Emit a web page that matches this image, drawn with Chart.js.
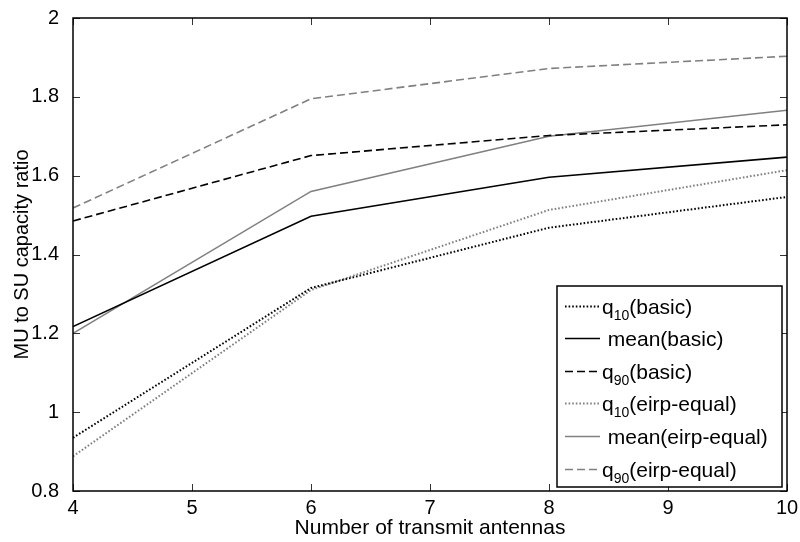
<!DOCTYPE html>
<html>
<head>
<meta charset="utf-8">
<script src="https://cdn.jsdelivr.net/npm/chart.js@4/dist/chart.umd.min.js"></script>
<style>
  html, body { margin: 0; padding: 0; background: #fff; }
  #wrap { width: 800px; height: 542px; position: relative; }
</style>
</head>
<body>
<div id="wrap"><canvas id="c" width="800" height="542"></canvas></div>
<script>
// ---- data ----
const antennas = [4, 6, 8, 10];
const q10Basic  = [0.935, 1.315, 1.468, 1.546];
const meanBasic = [1.217, 1.497, 1.596, 1.647];
const q90Basic  = [1.485, 1.651, 1.702, 1.729];
const q10Eirp   = [0.888, 1.310, 1.513, 1.614];
const meanEirp  = [1.200, 1.560, 1.700, 1.766];
const q90Eirp   = [1.518, 1.795, 1.872, 1.903];
const xTicks = [4, 5, 6, 7, 8, 9, 10];
const yTicks = [0.8, 1, 1.2, 1.4, 1.6, 1.8, 2];
const legendItems = [
  { pre: 'q', sub: '10', post: '(basic)' },
  { pre: ' mean(basic)', sub: '', post: '' },
  { pre: 'q', sub: '90', post: '(basic)' },
  { pre: 'q', sub: '10', post: '(eirp-equal)' },
  { pre: ' mean(eirp-equal)', sub: '', post: '' },
  { pre: 'q', sub: '90', post: '(eirp-equal)' }
];

const BLACK = '#000000';
const GREY = '#808080';
const DOT = [1.6, 2];
const DASH = [8, 4];
const FONT = '"Liberation Sans", Arial, Helvetica, sans-serif';

function pts(arr) { return antennas.map((x, i) => ({ x: x, y: arr[i] })); }

const series = [
  { data: q10Basic,  color: BLACK, dash: DOT,  width: 2 },
  { data: meanBasic, color: BLACK, dash: [],   width: 1.6 },
  { data: q90Basic,  color: BLACK, dash: DASH, width: 1.6 },
  { data: q10Eirp,   color: GREY,  dash: DOT,  width: 2 },
  { data: meanEirp,  color: GREY,  dash: [],   width: 1.6 },
  { data: q90Eirp,   color: GREY,  dash: DASH, width: 1.6 }
];

const boxPlugin = {
  id: 'boxPlugin',
  afterDatasetsDraw(chart) {
    const { ctx, chartArea: a, scales } = chart;
    ctx.save();
    ctx.strokeStyle = '#333';
    ctx.lineWidth = 1;
    const tl = 7;
    xTicks.forEach(v => {
      const px = Math.round(scales.x.getPixelForValue(v)) + 0.5;
      ctx.beginPath();
      ctx.moveTo(px, a.bottom); ctx.lineTo(px, a.bottom - tl);
      ctx.moveTo(px, a.top); ctx.lineTo(px, a.top + tl);
      ctx.stroke();
    });
    yTicks.forEach(v => {
      const py = Math.round(scales.y.getPixelForValue(v)) + 0.5;
      ctx.beginPath();
      ctx.moveTo(a.left, py); ctx.lineTo(a.left + tl, py);
      ctx.moveTo(a.right, py); ctx.lineTo(a.right - tl, py);
      ctx.stroke();
    });
    ctx.strokeStyle = '#000';
    ctx.lineWidth = 1.5;
    ctx.strokeRect(a.left, a.top, a.right - a.left, a.bottom - a.top);
    ctx.restore();
  },
  afterDraw(chart) {
    const { ctx, chartArea: a } = chart;
    const w = 225, h = 201;
    const x0 = a.right - 5 - w, y0 = a.bottom - 4 - h;
    ctx.save();
    ctx.fillStyle = '#fff';
    ctx.fillRect(x0, y0, w, h);
    ctx.strokeStyle = '#000';
    ctx.lineWidth = 1.5;
    ctx.strokeRect(x0, y0, w, h);
    const rowStart = 19.5, rowStep = 32.6;
    legendItems.forEach((it, i) => {
      const s = series[i];
      const cy = Math.round(y0 + rowStart + i * rowStep) + 0.5;
      ctx.beginPath();
      ctx.setLineDash(s.dash);
      ctx.strokeStyle = s.color;
      ctx.lineWidth = s.width;
      ctx.moveTo(x0 + 8, cy); ctx.lineTo(x0 + 43, cy);
      ctx.stroke();
      ctx.setLineDash([]);
      ctx.fillStyle = '#000';
      ctx.textBaseline = 'alphabetic';
      ctx.textAlign = 'left';
      let tx = x0 + 45;
      const base = cy + 7;
      ctx.font = '21px ' + FONT;
      ctx.fillText(it.pre, tx, base);
      tx += ctx.measureText(it.pre).width;
      if (it.sub) {
        ctx.font = '14px ' + FONT;
        ctx.fillText(it.sub, tx, base + 6);
        tx += ctx.measureText(it.sub).width;
      }
      if (it.post) {
        ctx.font = '21px ' + FONT;
        ctx.fillText(it.post, tx, base);
      }
    });
    ctx.restore();
  }
};

new Chart(document.getElementById('c'), {
  type: 'line',
  data: {
    datasets: series.map(s => ({
      data: pts(s.data),
      borderColor: s.color,
      borderDash: s.dash,
      borderWidth: s.width,
      pointRadius: 0,
      tension: 0,
      fill: false
    }))
  },
  options: {
    responsive: false,
    animation: false,
    events: [],
    layout: { padding: { top: 10, right: 13, left: 0, bottom: 0 } },
    plugins: { legend: { display: false }, tooltip: { enabled: false } },
    scales: {
      x: {
        type: 'linear', min: 4, max: 10,
        afterBuildTicks: s => { s.ticks = xTicks.map(v => ({ value: v })); },
        afterFit: s => { s.height = 51; },
        grid: { display: false },
        border: { display: false },
        ticks: { color: '#000', font: { family: FONT, size: 20 }, padding: -3, maxRotation: 0, autoSkip: false,
                 callback: v => String(v) },
        title: { display: true, text: 'Number of transmit antennas', color: '#000',
                 font: { family: FONT, size: 21, lineHeight: 1.2 }, padding: { top: 0, bottom: 1 } }
      },
      y: {
        type: 'linear', min: 0.8, max: 2,
        afterBuildTicks: s => { s.ticks = yTicks.map(v => ({ value: v })); },
        afterFit: s => { s.width = 73; },
        grid: { display: false },
        border: { display: false },
        ticks: { color: '#000', font: { family: FONT, size: 20 }, padding: 6, autoSkip: false,
                 callback: v => String(v) },
        title: { display: true, text: 'MU to SU capacity ratio', color: '#000',
                 font: { family: FONT, size: 20, lineHeight: 1.2 }, padding: { top: 10, bottom: 0 } }
      }
    }
  },
  plugins: [boxPlugin]
});
</script>
</body>
</html>
